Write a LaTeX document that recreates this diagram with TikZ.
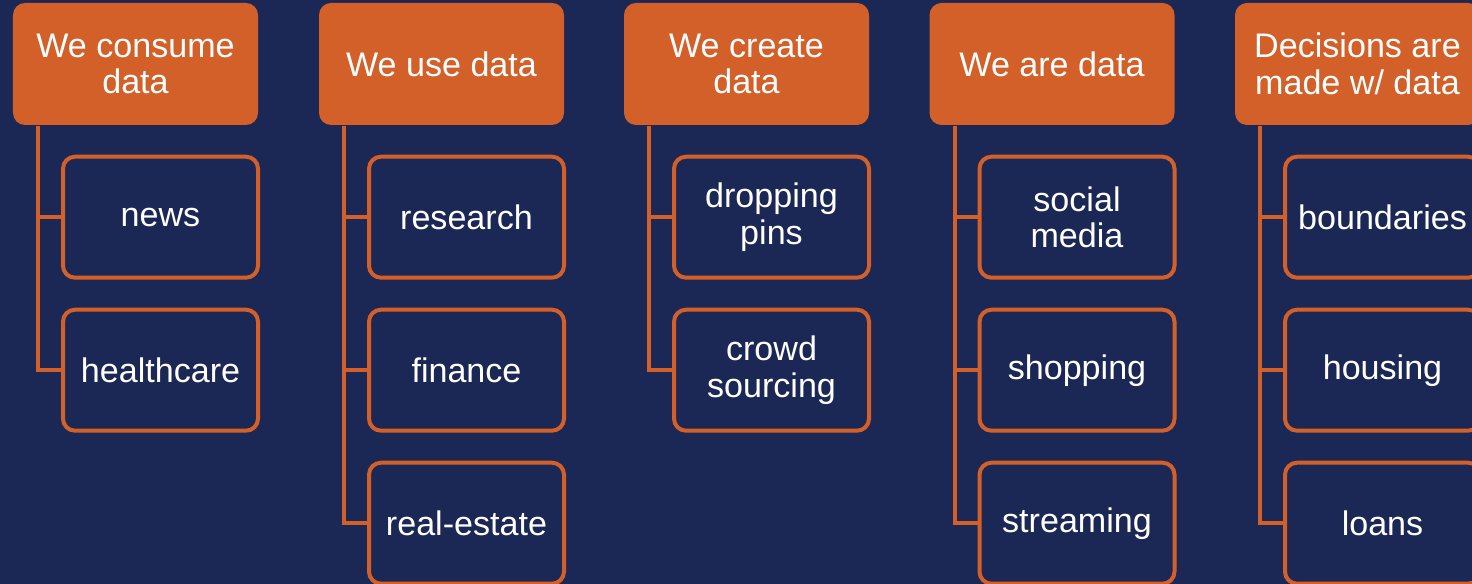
\documentclass[tikz,border=0pt]{standalone}
\usepackage{fontspec}
\setmainfont{Liberation Sans}
\usetikzlibrary{positioning}

\definecolor{navy}{RGB}{27,39,84}
\definecolor{rust}{RGB}{211,96,41}

\begin{document}
\begin{tikzpicture}
    \tikzstyle{head} = [fill=rust, text=white, rounded corners=0.12cm,
        minimum width=2.45cm, minimum height=1.22cm, align=center,
        font=\fontsize{9.7}{10.4}\selectfont]
    \tikzstyle{item} = [draw=rust, line width=0.04cm, fill=navy, text=white,
        rounded corners=0.12cm, minimum width=1.95cm, minimum height=1.21cm,
        align=center, font=\fontsize{9.7}{10.4}\selectfont]
    \tikzstyle{link} = [draw=rust, line width=0.04cm]

    \fill[navy] (0,0) rectangle (14.72,-5.84);
    \useasboundingbox (0,0) rectangle (14.72,-5.84);

    % top row
    \node[head] (1) at (1.355,-0.64) {We consume\\data};
    \node[head] (2) at (4.415,-0.64) {We use data};
    \node[head] (3) at (7.465,-0.64) {We create\\data};
    \node[head] (4) at (10.52,-0.64) {We are data};
    \node[head] (5) at (13.575,-0.64) {Decisions are\\made w/ data};

    % items under each heading
    \node[item, below=0.29cm of 1, xshift=0.25cm] (6) {news};
    \node[item, below=0.28cm of 6] (7) {healthcare};

    \node[item, below=0.29cm of 2, xshift=0.25cm] (8) {research};
    \node[item, below=0.28cm of 8] (9) {finance};
    \node[item, below=0.28cm of 9] (10) {real-estate};

    \node[item, below=0.29cm of 3, xshift=0.25cm] (11) {dropping\\pins};
    \node[item, below=0.28cm of 11] (12) {crowd\\sourcing};

    \node[item, below=0.29cm of 4, xshift=0.25cm] (13) {social\\media};
    \node[item, below=0.28cm of 13] (14) {shopping};
    \node[item, below=0.28cm of 14] (15) {streaming};

    \node[item, below=0.29cm of 5, xshift=0.25cm] (16) {boundaries};
    \node[item, below=0.28cm of 16] (17) {housing};
    \node[item, below=0.28cm of 17] (18) {loans};

    \draw[link] ([xshift=0.26cm]1.south west) |- (6.west);
    \draw[link] ([xshift=0.26cm]1.south west) |- (7.west);

    \draw[link] ([xshift=0.26cm]2.south west) |- (8.west);
    \draw[link] ([xshift=0.26cm]2.south west) |- (9.west);
    \draw[link] ([xshift=0.26cm]2.south west) |- (10.west);

    \draw[link] ([xshift=0.26cm]3.south west) |- (11.west);
    \draw[link] ([xshift=0.26cm]3.south west) |- (12.west);

    \draw[link] ([xshift=0.26cm]4.south west) |- (13.west);
    \draw[link] ([xshift=0.26cm]4.south west) |- (14.west);
    \draw[link] ([xshift=0.26cm]4.south west) |- (15.west);

    \draw[link] ([xshift=0.26cm]5.south west) |- (16.west);
    \draw[link] ([xshift=0.26cm]5.south west) |- (17.west);
    \draw[link] ([xshift=0.26cm]5.south west) |- (18.west);

\end{tikzpicture}
\end{document}
